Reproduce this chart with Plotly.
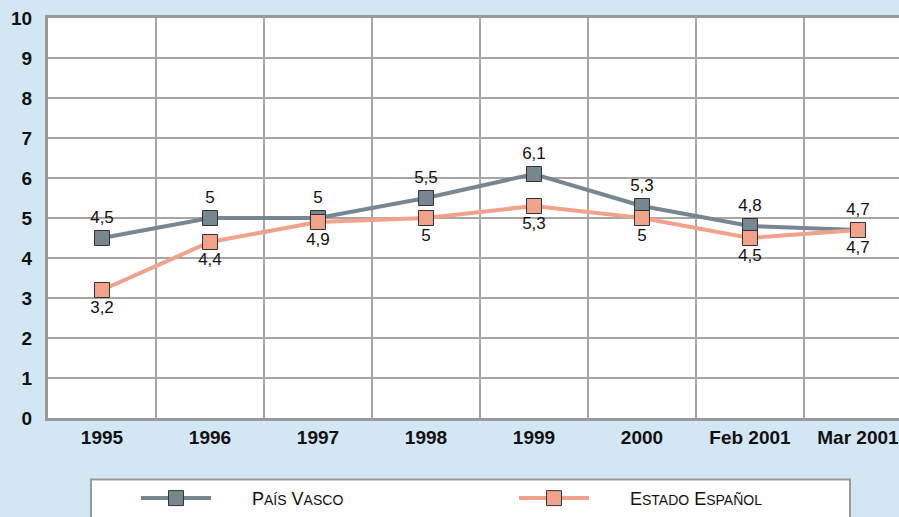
import plotly.graph_objects as go

categories = ["1995", "1996", "1997", "1998", "1999", "2000", "Feb 2001", "Mar 2001"]
pais_vasco = [4.5, 5, 5, 5.5, 6.1, 5.3, 4.8, 4.7]
estado_espanol = [3.2, 4.4, 4.9, 5, 5.3, 5, 4.5, 4.7]
y_ticks = list(range(0, 11))

FONT = "Liberation Sans, Arial, sans-serif"

def fmt(v):
    return f"{v:g}".replace(".", ",")

def small_caps(words):
    parts = []
    for w in words:
        parts.append(w[0].upper() + "<span style='font-size:14px'>" + w[1:].upper() + "</span>")
    return "\u2003\u2003" + " ".join(parts)

fig = go.Figure()
fig.add_trace(go.Scatter(
    x=categories, y=pais_vasco, mode="lines+markers+text",
    name=small_caps(["País", "Vasco"]),
    text=[fmt(v) for v in pais_vasco], textposition="top center",
    textfont=dict(size=17, color="#111111", family=FONT),
    line=dict(color="#778792", width=4),
    marker=dict(symbol="square", size=15, color="#778792", line=dict(color="#333333", width=1)),
))
fig.add_trace(go.Scatter(
    x=categories, y=estado_espanol, mode="lines+markers+text",
    name=small_caps(["Estado", "Español"]),
    text=[fmt(v) for v in estado_espanol], textposition="bottom center",
    textfont=dict(size=17, color="#111111", family=FONT),
    line=dict(color="#F1A28A", width=4),
    marker=dict(symbol="square", size=15, color="#F1A28A", line=dict(color="#333333", width=1)),
))

# legend frame (box behind the legend entries)
fig.add_shape(
    type="rect", xref="paper", yref="paper",
    x0=0.0505, x1=0.9424, y0=-0.30, y1=-0.1538,
    line=dict(color="#999999", width=2), fillcolor="#FFFFFF", layer="below",
)

fig.update_layout(
    width=899, height=517,
    margin=dict(l=48, r=0, t=18, b=96),
    paper_bgcolor="#D3E6F4",
    plot_bgcolor="#FFFFFF",
    font=dict(family=FONT, color="#111111"),
    showlegend=True,
    legend=dict(
        orientation="h", x=0.1034, xanchor="left", y=-0.201, yanchor="middle",
        bgcolor="rgba(0,0,0,0)", borderwidth=0,
        entrywidth=293, itemwidth=70,
        font=dict(size=18, color="#111111", family=FONT),
    ),
    xaxis=dict(
        type="category", categoryorder="array", categoryarray=categories,
        range=[-0.5, 7.38], tickson="boundaries",
        showgrid=True, gridcolor="#A6A6A6", gridwidth=1.5,
        showline=True, linecolor="#999999", linewidth=3, mirror=True,
        ticks="outside", ticklen=8, tickcolor="rgba(0,0,0,0)",
        tickfont=dict(size=19, color="#111111", family=FONT, weight="bold"),
        zeroline=False, fixedrange=True,
    ),
    yaxis=dict(
        range=[0, 10], tickvals=y_ticks, ticktext=[str(t) for t in y_ticks],
        showgrid=True, gridcolor="#A6A6A6", gridwidth=1.5,
        showline=True, linecolor="#999999", linewidth=3,
        ticks="outside", ticklen=9, tickcolor="rgba(0,0,0,0)",
        tickfont=dict(size=19, color="#111111", family=FONT, weight="bold"),
        zeroline=False, fixedrange=True,
    ),
)

fig.write_html(
    "out.html",
    config={"displayModeBar": False},
    post_script="document.body.style.margin='0';document.body.style.overflow='hidden';",
)
